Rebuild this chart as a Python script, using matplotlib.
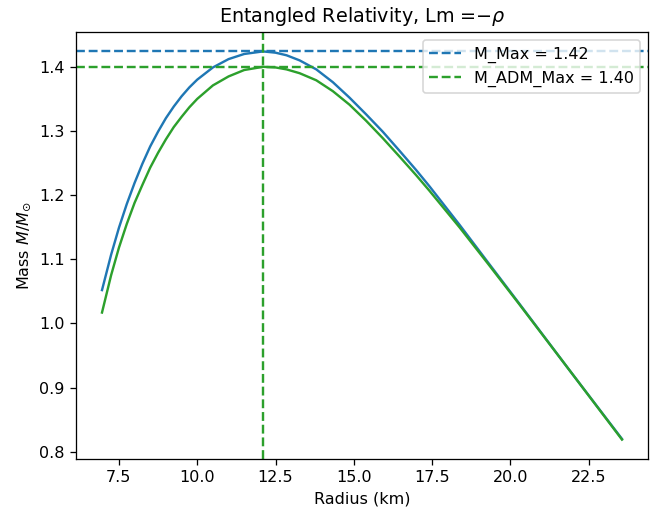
import matplotlib
matplotlib.use("Agg")
import matplotlib.pyplot as plt

# radius (km), shared by both curves
radius = [6.96, 7.25, 7.50, 7.75, 8.00, 8.25, 8.50, 8.75, 9.00, 9.25,
          9.50, 9.75, 10.00, 10.50, 11.00, 11.50, 12.10, 12.50, 12.85, 13.27,
          13.80, 14.33, 14.86, 15.39, 15.92, 16.46, 16.99, 17.41, 18.37, 19.30,
          20.28, 21.87, 23.56]

mass = [1.052, 1.107, 1.149, 1.186, 1.219, 1.249, 1.276, 1.299, 1.320, 1.338,
        1.354, 1.368, 1.380, 1.399, 1.412, 1.420, 1.424, 1.422, 1.418, 1.410,
        1.396, 1.376, 1.352, 1.326, 1.299, 1.269, 1.239, 1.214, 1.154, 1.094,
        1.031, 0.928, 0.820]

mass_adm = [1.017, 1.075, 1.118, 1.155, 1.188, 1.216, 1.243, 1.266, 1.287, 1.306,
            1.322, 1.337, 1.350, 1.371, 1.385, 1.395, 1.400, 1.399, 1.396, 1.390,
            1.379, 1.362, 1.341, 1.316, 1.289, 1.260, 1.231, 1.207, 1.150, 1.092,
            1.030, 0.928, 0.819]

m_max = max(mass)
m_adm_max = max(mass_adm)
r_at_max = radius[mass.index(m_max)]

dpi = 115
fig = plt.figure(figsize=(655 / dpi, 508 / dpi), dpi=dpi)
ax = fig.add_subplot(111)
fig.subplots_adjust(left=76 / 655, right=648 / 655, top=1 - 32 / 508, bottom=1 - 459 / 508)

ax.plot(radius, mass, color="C0")
ax.plot(radius, mass_adm, color="C2")
ax.axhline(m_max, color="C0", linestyle="--", label="M_Max = %.2f" % m_max)
ax.axhline(m_adm_max, color="C2", linestyle="--", label="M_ADM_Max = %.2f" % m_adm_max)
ax.axvline(r_at_max, color="C2", linestyle="--")

ax.set_xlabel("Radius (km)")
ax.set_ylabel(r"Mass $M/M_{\odot}$")
ax.set_title(r"Entangled Relativity, Lm =$-\rho$")
ax.legend(loc="upper right")

fig.savefig("out.png", dpi=dpi)
